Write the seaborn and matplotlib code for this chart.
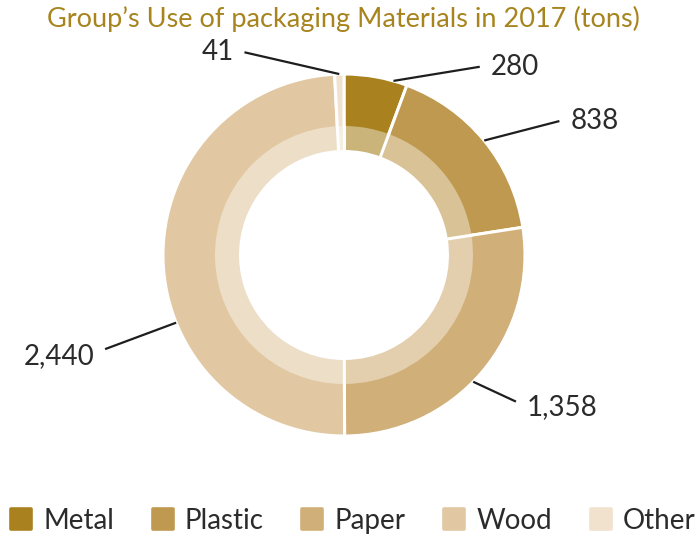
import numpy as np
import matplotlib
matplotlib.use("Agg")
import matplotlib.pyplot as plt
from matplotlib.lines import Line2D
from matplotlib.markers import MarkerStyle
import seaborn as sns

# Packaging materials used in 2017, in tons
materials = ["Metal", "Plastic", "Paper", "Wood", "Other"]
tons = [280, 838, 1358, 2440, 41]
value_labels = ["280", "838", "1,358", "2,440", "41"]

outer_colors = ["#A9821F", "#BF994F", "#D0AF78", "#E1C8A2", "#F1E2CE"]

sns.set_theme(style="white")
plt.rcParams["font.family"] = ["Lato", "DejaVu Sans"]

# lighter tint of each colour for the inner ring
inner_colors = [sns.blend_palette([c, "#FFFFFF"], 11)[4] for c in outer_colors]

W, H = 698, 538
fig = plt.figure(figsize=(W / 100, H / 100), dpi=100)
ax = fig.add_axes([0, 0, 1, 1])

# one data unit = outer radius in pixels
R_PX = 181.0
cx, cy = 344.0, 255.0
r_mid = 129 / R_PX
r_hole = 105 / R_PX

# outer ring spans down to the hole; the inner tinted ring is laid over it
ax.pie(tons, radius=1.0, colors=outer_colors, startangle=90, counterclock=False,
       wedgeprops=dict(width=1.0 - r_hole, edgecolor="white", linewidth=2.2))
ax.pie(tons, radius=r_mid, colors=inner_colors, startangle=90, counterclock=False,
       wedgeprops=dict(width=r_mid - r_hole, linewidth=0))

# white separators across the inner ring
bounds = np.concatenate([[0], np.cumsum(tons)]) / sum(tons) * 2 * np.pi
for b in bounds[:-1]:
    ax.plot([r_hole * 0.98 * np.sin(b), r_mid * 1.01 * np.sin(b)],
            [r_hole * 0.98 * np.cos(b), r_mid * 1.01 * np.cos(b)],
            color="white", lw=2.2, solid_capstyle="butt")

ax.set_xlim(-cx / R_PX, (W - cx) / R_PX)
ax.set_ylim(-(H - cy) / R_PX, cy / R_PX)
ax.set_aspect("auto")
ax.axis("off")

# leader lines: anchor position inside each slice, line end and text side
anchor_frac = [0.78, 0.5, 0.54, 0.385, 0.5]
line_end = [(0.75, 1.04), (1.19, 0.74), (0.95, -0.81), (-1.32, -0.52), (-0.55, 1.12)]
text_align = ["left", "left", "left", "right", "right"]
text_dy = [0.0, 0.0, -0.03, -0.04, 0.0]

total = sum(tons)
start = 0.0
for val, lab, frac, end, ha, dy in zip(tons, value_labels, anchor_frac, line_end,
                                       text_align, text_dy):
    ang = np.deg2rad(360.0 * (start + frac * val) / total)
    start += val
    x0, y0 = np.sin(ang), np.cos(ang)
    ax.plot([x0, end[0]], [y0, end[1]], color="#1E1E1E", lw=1.6, solid_capstyle="butt")
    dx = 0.06 if ha == "left" else -0.06
    ax.text(end[0] + dx, end[1] + dy, lab, ha=ha, va="center", fontsize=20,
            color="#2B2B2B")

fig.text(343 / W, 1 - 19 / H, "Group\u2019s Use of packaging Materials in 2017 (tons)",
         ha="center", va="center", fontsize=19.5, color="#A8841F")

square = MarkerStyle("s", joinstyle="round")
handles = [Line2D([], [], marker=square, linestyle="none", markersize=15,
                  markeredgewidth=2.6, markerfacecolor=c, markeredgecolor=c)
           for c in outer_colors]
fig.legend(handles, materials, loc="center", bbox_to_anchor=(352 / W, 1 - 521 / H),
           ncol=5, frameon=False, handletextpad=0.35, columnspacing=1.3,
           handlelength=0.9, labelcolor="#2B2B2B", borderaxespad=0,
           prop=dict(size=20))

fig.savefig("out.png", dpi=100)
